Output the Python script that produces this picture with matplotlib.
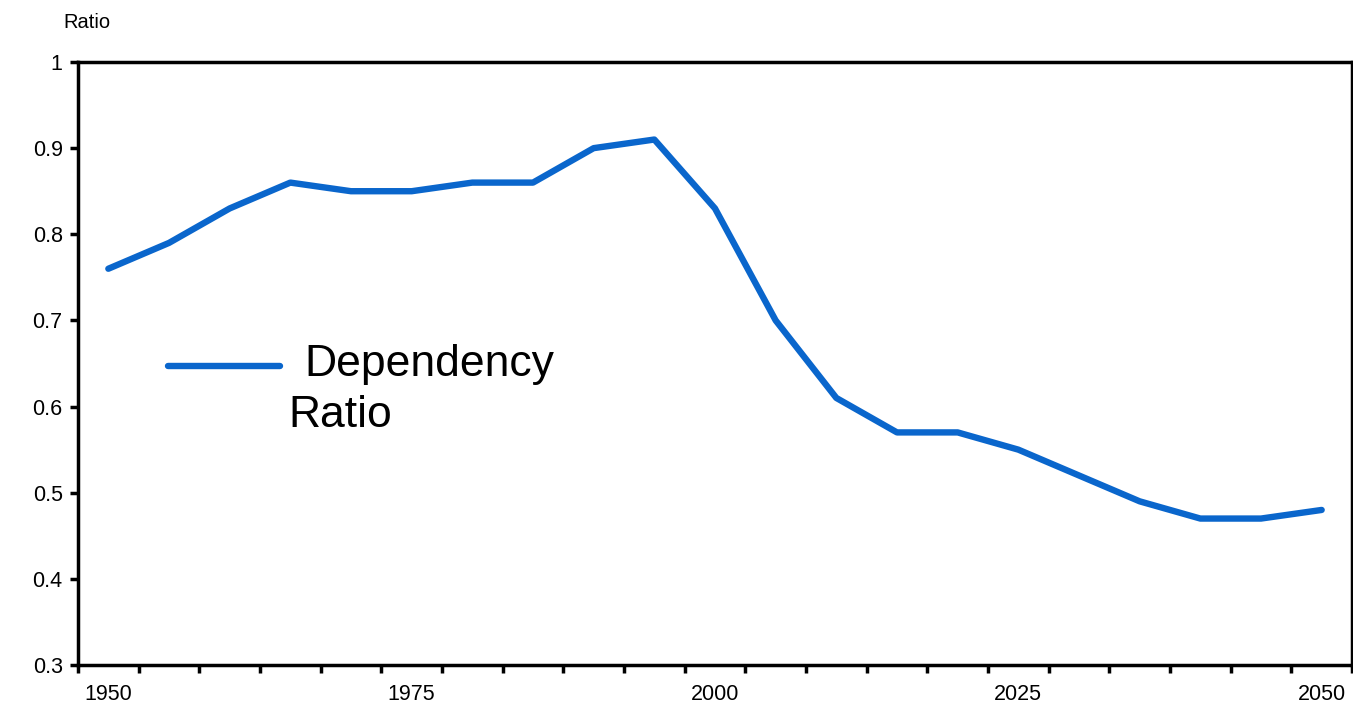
import numpy as np
import matplotlib.pyplot as plt
from matplotlib.ticker import FixedLocator, FuncFormatter

plt.rcParams['font.family'] = ['Liberation Sans', 'DejaVu Sans']

years = list(range(1950, 2055, 5))
ratio = [0.76, 0.79, 0.83, 0.86, 0.85, 0.85, 0.86, 0.86, 0.90, 0.91, 0.83,
         0.70, 0.61, 0.57, 0.57, 0.55, 0.52, 0.49, 0.47, 0.47, 0.48]
year_labels = [1950, 1975, 2000, 2025, 2050]
series_name = 'Dependency Ratio'

blue = '#0A66CC'

fig = plt.figure(figsize=(13.53, 7.06), dpi=100)
ax = fig.add_axes([78 / 1353, 41 / 706, 1274 / 1353, 603 / 706])

ax.plot(years, ratio, color=blue, lw=4.6, solid_joinstyle='round',
        solid_capstyle='round')

# category-style axis: ticks between the 5-year slots, labels every 25 years
ax.set_xlim(years[0] - 2.5, years[-1] + 2.5)
ax.set_ylim(0.3, 1.0)
ax.xaxis.set_major_locator(FixedLocator(np.arange(years[0] - 2.5, years[-1] + 5, 5)))
ax.xaxis.set_major_formatter(FuncFormatter(lambda v, p: ''))
ax.set_xticks(year_labels, minor=True)
ax.set_xticklabels([str(y) for y in year_labels], minor=True, fontsize=15.5)
ax.tick_params(axis='x', which='minor', length=0, pad=14)
ax.tick_params(axis='x', which='major', length=6, width=2.5, direction='out')

ax.set_yticks(np.arange(0.3, 1.01, 0.1))
ax.yaxis.set_major_formatter(FuncFormatter(lambda v, p: f'{v:g}'))
ax.tick_params(axis='y', length=6, width=2.5, direction='out', labelsize=15.5, pad=5)

for s in ax.spines.values():
    s.set_linewidth(2.5)
    s.set_color('black')

fig.text(63 / 1353, 1 - 28 / 706, 'Ratio', fontsize=14.5, va='baseline', ha='left')

# legend key and label
ax.plot([0.0706, 0.1586], [0.496, 0.496], transform=ax.transAxes, color=blue,
        lw=4.6, solid_capstyle='round')
first, second = series_name.split(' ')
fig.text(304 / 1353, 1 - 376 / 706, first, fontsize=32, va='baseline', ha='left')
fig.text(288 / 1353, 1 - 427 / 706, second, fontsize=32, va='baseline', ha='left')

fig.savefig('out.png', dpi=100)
